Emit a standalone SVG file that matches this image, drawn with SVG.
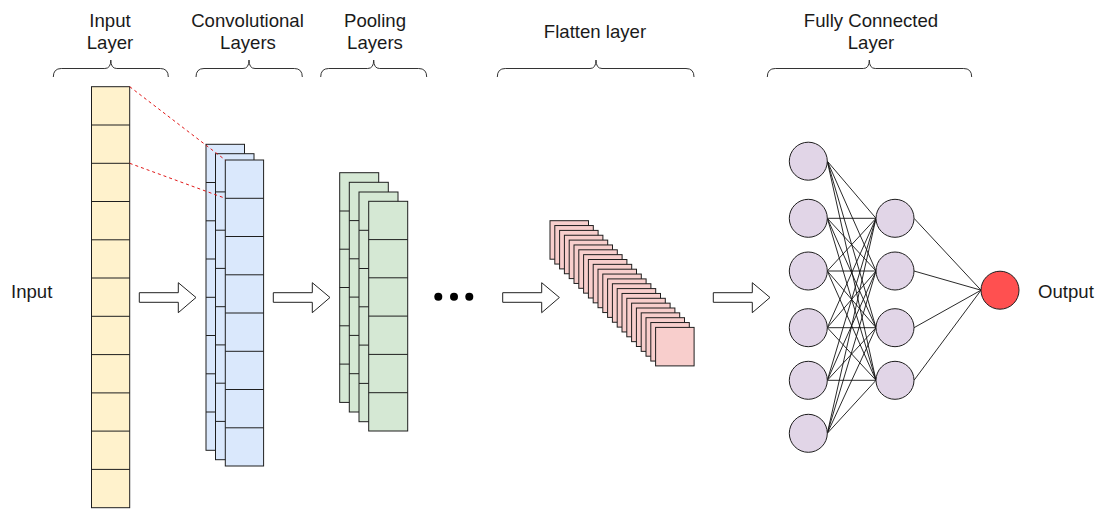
<svg xmlns="http://www.w3.org/2000/svg" width="1103" height="509" viewBox="0 0 1103 509">
  <style>
    .lbl { font-family: "Liberation Sans", Arial, sans-serif; font-size: 18.6px; fill: #1a1a1a; }
    .mid { text-anchor: middle; }
    .brace { fill: none; stroke: #333; stroke-width: 1; }
    .cell { stroke: #1e1e1e; stroke-width: 1; }
    .inp { fill: #fff2cc; }
    .conv { fill: #dae8fc; }
    .pool { fill: #d5e8d4; }
    .flat { fill: #f8cecc; }
    .div { stroke: #1e1e1e; stroke-width: 1; }
    .neuron { fill: #e1d5e7; stroke: #1e1e1e; stroke-width: 1; }
    .out { fill: #ff5050; stroke: #1e1e1e; stroke-width: 1; }
    .edge { stroke: #111; stroke-width: 0.9; fill: none; }
    .focus { stroke: #e01818; stroke-width: 1; stroke-dasharray: 3 3; fill: none; }
    .barrow { fill: #fff; stroke: #222; stroke-width: 1; }
  </style>
  <defs>
    <!-- hollow block arrow, origin at the left end of its shaft centre line -->
    <path id="blockArrow" class="barrow" d="M0,-4.8 L39,-4.8 L39,-14.8 L56.7,0 L39,15.2 L39,4.8 L0,4.8 Z"/>
    <!-- single feature square used by the flattened stack -->
    <rect id="flatSq" class="cell flat" width="38.5" height="38.5"/>
  </defs>

  <rect width="1103" height="509" fill="#fff"/>

  <!-- section titles and braces -->
  <g id="titles">
    <text class="lbl mid" x="110" y="26.5">Input</text>
    <text class="lbl mid" x="110" y="48.5">Layer</text>
    <text class="lbl mid" x="247.5" y="26.5">Convolutional</text>
    <text class="lbl mid" x="248" y="48.5">Layers</text>
    <text class="lbl mid" x="375" y="26.5">Pooling</text>
    <text class="lbl mid" x="375" y="48.5">Layers</text>
    <text class="lbl mid" x="595" y="37.5">Flatten layer</text>
    <text class="lbl mid" x="871" y="26.5">Fully Connected</text>
    <text class="lbl mid" x="871" y="48.5">Layer</text>
    <path class="brace" d="M53.3,77 Q53.3,68.5 61.3,68.5 L104.8,68.5 Q110.8,68.5 110.8,60 Q110.8,68.5 116.8,68.5 L160.3,68.5 Q168.3,68.5 168.3,77"/>
    <path class="brace" d="M196,77 Q196,68.5 204,68.5 L243,68.5 Q249,68.5 249,60 Q249,68.5 255,68.5 L294.3,68.5 Q302.3,68.5 302.3,77"/>
    <path class="brace" d="M320.7,77 Q320.7,68.5 328.7,68.5 L367.7,68.5 Q373.7,68.5 373.7,60 Q373.7,68.5 379.7,68.5 L418.7,68.5 Q426.7,68.5 426.7,77"/>
    <path class="brace" d="M497.3,77 Q497.3,68.5 505.3,68.5 L590,68.5 Q596,68.5 596,60 Q596,68.5 602,68.5 L686,68.5 Q694,68.5 694,77"/>
    <path class="brace" d="M767.3,77 Q767.3,68.5 775.3,68.5 L863.3,68.5 Q869.3,68.5 869.3,60 Q869.3,68.5 875.3,68.5 L963.7,68.5 Q971.7,68.5 971.7,77"/>
  </g>

  <g id="input-label">
    <text class="lbl" x="11" y="298">Input</text>
  </g>
  <g id="output-label">
    <text class="lbl" x="1038" y="298">Output</text>
  </g>

  <!-- input vector: 11 cells -->
  <g id="input-layer">
    <rect class="cell inp" x="91.5" y="86.7" width="38.2" height="421"/>
    <path class="div" d="M91.5,125 H129.7 M91.5,163.3 H129.7 M91.5,201.5 H129.7 M91.5,239.8 H129.7 M91.5,278 H129.7 M91.5,316.3 H129.7 M91.5,354.6 H129.7 M91.5,392.9 H129.7 M91.5,431.1 H129.7 M91.5,469.4 H129.7"/>
  </g>

  <!-- convolution feature maps: 3 stacked columns of 8 cells -->
  <g id="conv-layers">
    <rect class="cell conv" x="206" y="144.3" width="38.5" height="306"/>
    <path class="div" d="M206,182.5 H244.5 M206,220.8 H244.5 M206,259 H244.5 M206,297.3 H244.5 M206,335.5 H244.5 M206,373.8 H244.5 M206,412 H244.5"/>
    <rect class="cell conv" x="215.5" y="153.7" width="38.5" height="306"/>
    <path class="div" d="M215.5,191.9 H254 M215.5,230.2 H254 M215.5,268.4 H254 M215.5,306.7 H254 M215.5,344.9 H254 M215.5,383.2 H254 M215.5,421.4 H254"/>
    <rect class="cell conv" x="225.3" y="160" width="38.3" height="306"/>
    <path class="div" d="M225.3,198.3 H263.6 M225.3,236.5 H263.6 M225.3,274.8 H263.6 M225.3,313 H263.6 M225.3,351.3 H263.6 M225.3,389.5 H263.6 M225.3,427.8 H263.6"/>
  </g>

  <!-- pooled maps: 4 stacked columns of 6 cells -->
  <g id="pooling-layers">
    <rect class="cell pool" x="339.7" y="172.7" width="39" height="229.7"/>
    <path class="div" d="M339.7,211 H378.7 M339.7,249.2 H378.7 M339.7,287.5 H378.7 M339.7,325.8 H378.7 M339.7,364.1 H378.7"/>
    <rect class="cell pool" x="349.3" y="182.3" width="39" height="229.7"/>
    <path class="div" d="M349.3,220.6 H388.3 M349.3,258.8 H388.3 M349.3,297.1 H388.3 M349.3,335.4 H388.3 M349.3,373.7 H388.3"/>
    <rect class="cell pool" x="359" y="192" width="39" height="229.7"/>
    <path class="div" d="M359,230.3 H398 M359,268.5 H398 M359,306.8 H398 M359,345.1 H398 M359,383.4 H398"/>
    <rect class="cell pool" x="368.7" y="201.3" width="39" height="229.7"/>
    <path class="div" d="M368.7,239.6 H407.7 M368.7,277.8 H407.7 M368.7,316.1 H407.7 M368.7,354.4 H407.7 M368.7,392.7 H407.7"/>
  </g>

  <!-- ellipsis between pooling and flatten -->
  <g id="ellipsis" fill="#000">
    <circle cx="438.3" cy="296.7" r="4"/>
    <circle cx="454" cy="296.7" r="4"/>
    <circle cx="469.3" cy="296.7" r="4"/>
  </g>

  <!-- flattened vector: 23 overlapping squares -->
  <g id="flatten-layer">
    <use href="#flatSq" x="550" y="220.7"/>
    <use href="#flatSq" x="554.8" y="225.55"/>
    <use href="#flatSq" x="559.6" y="230.4"/>
    <use href="#flatSq" x="564.4" y="235.25"/>
    <use href="#flatSq" x="569.2" y="240.1"/>
    <use href="#flatSq" x="574" y="244.95"/>
    <use href="#flatSq" x="578.8" y="249.8"/>
    <use href="#flatSq" x="583.6" y="254.65"/>
    <use href="#flatSq" x="588.4" y="259.5"/>
    <use href="#flatSq" x="593.2" y="264.35"/>
    <use href="#flatSq" x="598" y="269.2"/>
    <use href="#flatSq" x="602.8" y="274.05"/>
    <use href="#flatSq" x="607.6" y="278.9"/>
    <use href="#flatSq" x="612.4" y="283.75"/>
    <use href="#flatSq" x="617.2" y="288.6"/>
    <use href="#flatSq" x="622" y="293.45"/>
    <use href="#flatSq" x="626.8" y="298.3"/>
    <use href="#flatSq" x="631.6" y="303.15"/>
    <use href="#flatSq" x="636.4" y="308"/>
    <use href="#flatSq" x="641.2" y="312.85"/>
    <use href="#flatSq" x="646" y="317.7"/>
    <use href="#flatSq" x="650.8" y="322.55"/>
    <use href="#flatSq" x="655.6" y="327.4"/>
  </g>

  <!-- connectors -->
  <g id="connectors">
    <path class="focus" d="M129.7,86.7 L225.3,160"/>
    <path class="focus" d="M129.7,163.3 L225.3,198.3"/>
    <use href="#blockArrow" x="139.3" y="297.5"/>
    <use href="#blockArrow" x="273.3" y="297.5"/>
    <use href="#blockArrow" x="502.7" y="297.5"/>
    <use href="#blockArrow" x="713.3" y="297.5"/>
    <g class="edge">
      <path d="M827.3,161.2 L876,218.3 M827.3,161.2 L876,271 M827.3,161.2 L876,327.7 M827.3,161.2 L876,380.3"/>
      <path d="M827.3,218.3 L876,218.3 M827.3,218.3 L876,271 M827.3,218.3 L876,327.7 M827.3,218.3 L876,380.3"/>
      <path d="M827.3,271 L876,218.3 M827.3,271 L876,271 M827.3,271 L876,327.7 M827.3,271 L876,380.3"/>
      <path d="M827.3,327.7 L876,218.3 M827.3,327.7 L876,271 M827.3,327.7 L876,327.7 M827.3,327.7 L876,380.3"/>
      <path d="M827.3,380.3 L876,218.3 M827.3,380.3 L876,271 M827.3,380.3 L876,327.7 M827.3,380.3 L876,380.3"/>
      <path d="M827.3,433.3 L876,218.3 M827.3,433.3 L876,271 M827.3,433.3 L876,327.7 M827.3,433.3 L876,380.3"/>
      <path d="M914,218.3 L981,290.2 M914,271 L981,290.2 M914,327.7 L981,290.2 M914,380.3 L981,290.2"/>
    </g>
  </g>

  <!-- fully connected layer neurons -->
  <g id="fc-in-1"><circle class="neuron" cx="808.3" cy="161.2" r="19"/></g>
  <g id="fc-in-2"><circle class="neuron" cx="808.3" cy="218.3" r="19"/></g>
  <g id="fc-in-3"><circle class="neuron" cx="808.3" cy="271" r="19"/></g>
  <g id="fc-in-4"><circle class="neuron" cx="808.3" cy="327.7" r="19"/></g>
  <g id="fc-in-5"><circle class="neuron" cx="808.3" cy="380.3" r="19"/></g>
  <g id="fc-in-6"><circle class="neuron" cx="808.3" cy="433.3" r="19"/></g>
  <g id="fc-hid-1"><circle class="neuron" cx="895" cy="218.3" r="19"/></g>
  <g id="fc-hid-2"><circle class="neuron" cx="895" cy="271" r="19"/></g>
  <g id="fc-hid-3"><circle class="neuron" cx="895" cy="327.7" r="19"/></g>
  <g id="fc-hid-4"><circle class="neuron" cx="895" cy="380.3" r="19"/></g>
  <g id="fc-out"><circle class="out" cx="1000" cy="290.2" r="19"/></g>
</svg>
